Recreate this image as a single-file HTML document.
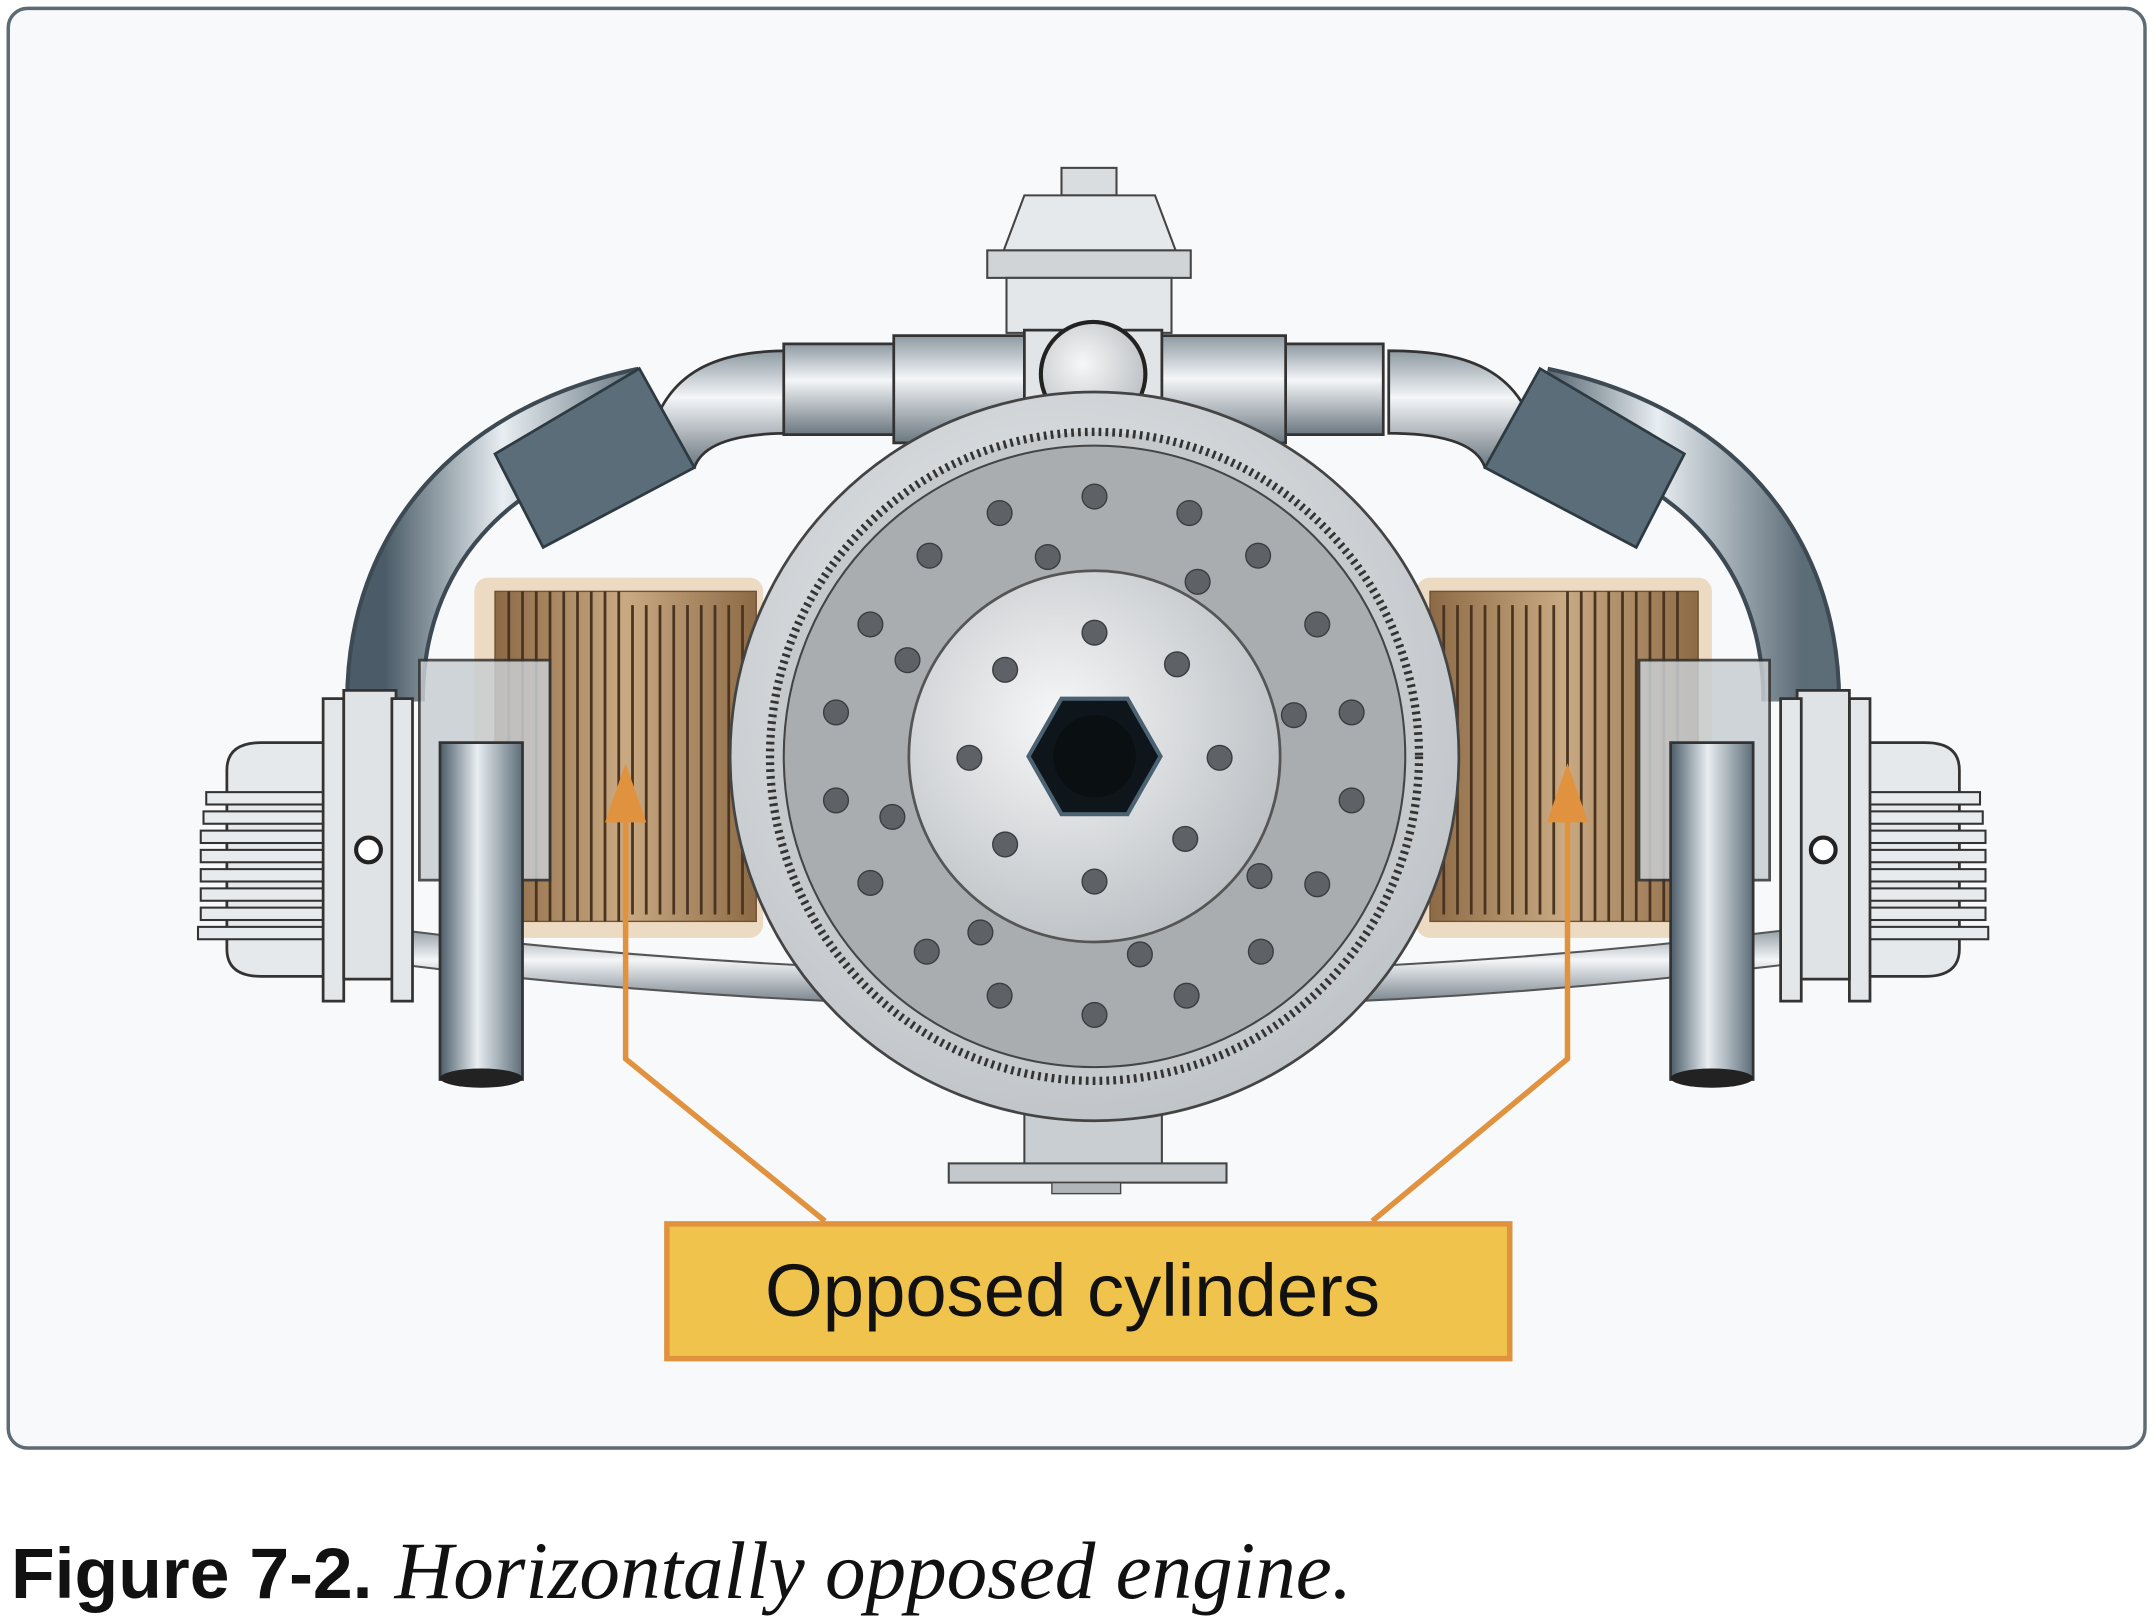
<!DOCTYPE html>
<html><head><meta charset="utf-8"><style>
html,body{margin:0;padding:0;background:#fff;}
svg{display:block;}
</style></head><body>
<svg width="2156" height="1620" viewBox="0 0 1568 1178" xmlns="http://www.w3.org/2000/svg">
<defs>
<linearGradient id="pipeV" x1="0" y1="0" x2="1" y2="0">
<stop offset="0" stop-color="#4b5c68"/><stop offset="0.45" stop-color="#e8eef2"/><stop offset="1" stop-color="#5d6d78"/></linearGradient>
<linearGradient id="pipeH" x1="0" y1="0" x2="0" y2="1">
<stop offset="0" stop-color="#8e9aa2"/><stop offset="0.4" stop-color="#f4f6f8"/><stop offset="1" stop-color="#6b7780"/></linearGradient>
<linearGradient id="fin" x1="0" y1="0" x2="1" y2="0">
<stop offset="0" stop-color="#8c6a45"/><stop offset="0.5" stop-color="#c9aa83"/><stop offset="1" stop-color="#8c6a45"/></linearGradient>
<radialGradient id="hub" cx="0.4" cy="0.4" r="0.7"><stop offset="0" stop-color="#f6f7f8"/><stop offset="1" stop-color="#b7bbbf"/></radialGradient>
<radialGradient id="outer" cx="0.45" cy="0.4" r="0.7"><stop offset="0" stop-color="#eef0f2"/><stop offset="1" stop-color="#b9bec2"/></radialGradient>
</defs>
<rect x="6" y="6" width="1554" height="1047" rx="14" fill="#f7f9fb" stroke="#5e6a74" stroke-width="2.5"/>

<rect x="772" y="122" width="40" height="20" fill="#d9dde0" stroke="#444" stroke-width="1.5"/>
<path d="M745 142 H840 L855 182 H730 Z" fill="#e6e9eb" stroke="#444" stroke-width="1.5"/>
<rect x="718" y="182" width="148" height="20" fill="#d0d4d7" stroke="#444" stroke-width="1.5"/>
<rect x="732" y="202" width="120" height="40" fill="#e4e7e9" stroke="#444" stroke-width="1.5"/>

<path d="M280 510 C280 400 350 320 470 295" fill="none" stroke="#3d4a53" stroke-width="58"/>
<path d="M280 510 C280 400 350 320 470 295" fill="none" stroke="url(#pipeV)" stroke-width="52"/>
<path d="M1310 510 C1310 400 1240 320 1120 295" fill="none" stroke="#3d4a53" stroke-width="58"/>
<path d="M1310 510 C1310 400 1240 320 1120 295" fill="none" stroke="url(#pipeV)" stroke-width="52"/>
<path d="M470 330 C480 270 520 255 575 255 V315 C530 315 510 325 505 340 Z" fill="url(#pipeH)" stroke="#333" stroke-width="2"/>
<path d="M1120 330 C1110 270 1070 255 1010 255 V315 C1055 315 1075 325 1080 340 Z" fill="url(#pipeH)" stroke="#333" stroke-width="2"/>
<rect x="570" y="250" width="436" height="66" fill="url(#pipeH)" stroke="#333" stroke-width="2"/>
<rect x="650" y="244" width="285" height="78" fill="url(#pipeH)" stroke="#333" stroke-width="2"/>
<path d="M360 330 L465 268 L505 340 L395 398 Z" fill="#5b6d79" stroke="#2e3a42" stroke-width="2"/>
<path d="M1225 330 L1120 268 L1080 340 L1190 398 Z" fill="#5b6d79" stroke="#2e3a42" stroke-width="2"/>
<rect x="745" y="240" width="100" height="85" fill="#e1e5e8" stroke="#333" stroke-width="2"/>
<circle cx="795" cy="272" r="38" fill="url(#hub)" stroke="#222" stroke-width="3"/>

<path d="M280 675 Q796 740 1310 675 V700 Q796 765 280 700 Z" fill="url(#pipeH)" stroke="#555" stroke-width="1.5"/>

<rect x="345" y="420" width="210" height="262" rx="10" fill="#e8d2b4" opacity="0.8"/>
<rect x="360" y="430" width="190" height="240" fill="url(#fin)" stroke="#6f5233"/>
<g stroke="#4a3420" stroke-width="2">
<path d="M370 430V670M380 430V670M390 430V670M400 430V670M410 430V670M420 430V670M430 430V670M440 430V670M450 430V670M460 440V665M470 440V665M480 440V665M490 440V665M500 440V665M510 440V665M520 440V665M530 440V665M540 440V665"/>
</g>
<rect x="1030" y="420" width="215" height="262" rx="10" fill="#e8d2b4" opacity="0.8"/>
<rect x="1040" y="430" width="195" height="240" fill="url(#fin)" stroke="#6f5233"/>
<g stroke="#4a3420" stroke-width="2">
<path d="M1050 440V665M1060 440V665M1070 440V665M1080 440V665M1090 440V665M1100 440V665M1110 440V665M1120 440V665M1130 440V665M1140 430V670M1150 430V670M1160 430V670M1170 430V670M1180 430V670M1190 430V670M1200 430V670M1210 430V670M1220 430V670"/>
</g>

<rect x="305" y="480" width="95" height="160" fill="#c9ced2" stroke="#333" stroke-width="2" opacity="0.85"/>
<path d="M190 540 H240 V710 H190 Q165 710 165 690 V560 Q165 540 190 540Z" fill="#e6e9eb" stroke="#333" stroke-width="2"/>
<g fill="#e8ebed" stroke="#333" stroke-width="1.5">
<rect x="150" y="576" width="90" height="9"/><rect x="148" y="590" width="92" height="9"/><rect x="146" y="604" width="94" height="9"/><rect x="146" y="618" width="94" height="9"/><rect x="146" y="632" width="94" height="9"/><rect x="146" y="646" width="94" height="9"/><rect x="146" y="660" width="94" height="9"/><rect x="144" y="674" width="96" height="9"/>
</g>
<rect x="235" y="508" width="15" height="220" fill="#e4e7e9" stroke="#333" stroke-width="2"/>
<rect x="250" y="502" width="38" height="210" fill="#dfe3e6" stroke="#333" stroke-width="2"/>
<rect x="285" y="508" width="15" height="220" fill="#e4e7e9" stroke="#333" stroke-width="2"/>
<circle cx="268" cy="618" r="9" fill="#fff" stroke="#222" stroke-width="3"/>
<rect x="320" y="540" width="60" height="245" fill="url(#pipeV)" stroke="#333" stroke-width="2"/>
<ellipse cx="350" cy="784" rx="30" ry="7" fill="#222"/>
<rect x="1192" y="480" width="95" height="160" fill="#c9ced2" stroke="#333" stroke-width="2" opacity="0.85"/>
<path d="M1400 540 H1350 V710 H1400 Q1425 710 1425 690 V560 Q1425 540 1400 540Z" fill="#e6e9eb" stroke="#333" stroke-width="2"/>
<g fill="#e8ebed" stroke="#333" stroke-width="1.5">
<rect x="1350" y="576" width="90" height="9"/><rect x="1350" y="590" width="92" height="9"/><rect x="1350" y="604" width="94" height="9"/><rect x="1350" y="618" width="94" height="9"/><rect x="1350" y="632" width="94" height="9"/><rect x="1350" y="646" width="94" height="9"/><rect x="1350" y="660" width="94" height="9"/><rect x="1350" y="674" width="96" height="9"/>
</g>
<rect x="1345" y="508" width="15" height="220" fill="#e4e7e9" stroke="#333" stroke-width="2"/>
<rect x="1307" y="502" width="38" height="210" fill="#dfe3e6" stroke="#333" stroke-width="2"/>
<rect x="1295" y="508" width="15" height="220" fill="#e4e7e9" stroke="#333" stroke-width="2"/>
<circle cx="1326" cy="618" r="9" fill="#fff" stroke="#222" stroke-width="3"/>
<rect x="1215" y="540" width="60" height="245" fill="url(#pipeV)" stroke="#333" stroke-width="2"/>
<ellipse cx="1245" cy="784" rx="30" ry="7" fill="#222"/>

<path d="M745 790 H845 V848 H745 Z" fill="#c9ced2" stroke="#444" stroke-width="1.5"/>
<rect x="690" y="846" width="202" height="14" fill="#c3c8cc" stroke="#444" stroke-width="1.5"/>
<rect x="765" y="860" width="50" height="8" fill="#b0b5b9" stroke="#444"/>

<circle cx="796" cy="550" r="265" fill="url(#outer)" stroke="#444" stroke-width="2"/>
<circle cx="796" cy="550" r="236" fill="#c5c9cc" stroke="#333" stroke-width="6" stroke-dasharray="2 3"/>
<circle cx="796" cy="550" r="226" fill="#a9adb0" stroke="#444" stroke-width="1.5"/>
<circle cx="796" cy="550" r="135" fill="url(#hub)" stroke="#555" stroke-width="2"/>
<polygon points="748,550 772,508 820,508 844,550 820,592 772,592" fill="#0f161b" stroke="#4b6272" stroke-width="3"/>
<circle cx="796" cy="550" r="30" fill="#0a0f12"/>
<g fill="#5e6266" stroke="#3a3d40" stroke-width="1">
<circle cx="796" cy="361" r="9"/><circle cx="727" cy="373" r="9"/><circle cx="865" cy="373" r="9"/><circle cx="676" cy="404" r="9"/><circle cx="915" cy="404" r="9"/><circle cx="762" cy="405" r="9"/><circle cx="871" cy="423" r="9"/><circle cx="633" cy="454" r="9"/><circle cx="958" cy="454" r="9"/><circle cx="660" cy="480" r="9"/><circle cx="608" cy="518" r="9"/><circle cx="941" cy="520" r="9"/><circle cx="983" cy="518" r="9"/><circle cx="608" cy="582" r="9"/><circle cx="983" cy="582" r="9"/><circle cx="649" cy="594" r="9"/><circle cx="633" cy="642" r="9"/><circle cx="916" cy="637" r="9"/><circle cx="958" cy="643" r="9"/><circle cx="713" cy="678" r="9"/><circle cx="674" cy="692" r="9"/><circle cx="829" cy="694" r="9"/><circle cx="917" cy="692" r="9"/><circle cx="727" cy="724" r="9"/><circle cx="863" cy="724" r="9"/><circle cx="796" cy="738" r="9"/>
<circle cx="796" cy="460" r="9"/><circle cx="731" cy="487" r="9"/><circle cx="856" cy="483" r="9"/><circle cx="705" cy="551" r="9"/><circle cx="887" cy="551" r="9"/><circle cx="731" cy="614" r="9"/><circle cx="862" cy="610" r="9"/><circle cx="796" cy="641" r="9"/>
</g>

<g fill="none" stroke="#e0923f" stroke-width="4">
<path d="M455 585 V770 L600 888"/><path d="M1140 585 V770 L998 888"/>
</g>
<polygon points="455,555 440,598 470,598" fill="#e0923f"/>
<polygon points="1140,555 1125,598 1155,598" fill="#e0923f"/>

<rect x="485" y="890" width="613" height="98" fill="#f0c34c" stroke="#e0923f" stroke-width="4"/>
<text x="780" y="957" text-anchor="middle" font-family="Liberation Sans, sans-serif" font-size="54" fill="#111">Opposed cylinders</text>

<text x="8" y="1162" font-family="Liberation Sans, sans-serif" font-weight="bold" font-size="52" fill="#111">Figure 7-2.</text>
<text x="287" y="1162" font-family="Liberation Serif, serif" font-style="italic" font-size="59" fill="#111">Horizontally opposed engine.</text>
</svg>
</body></html>
